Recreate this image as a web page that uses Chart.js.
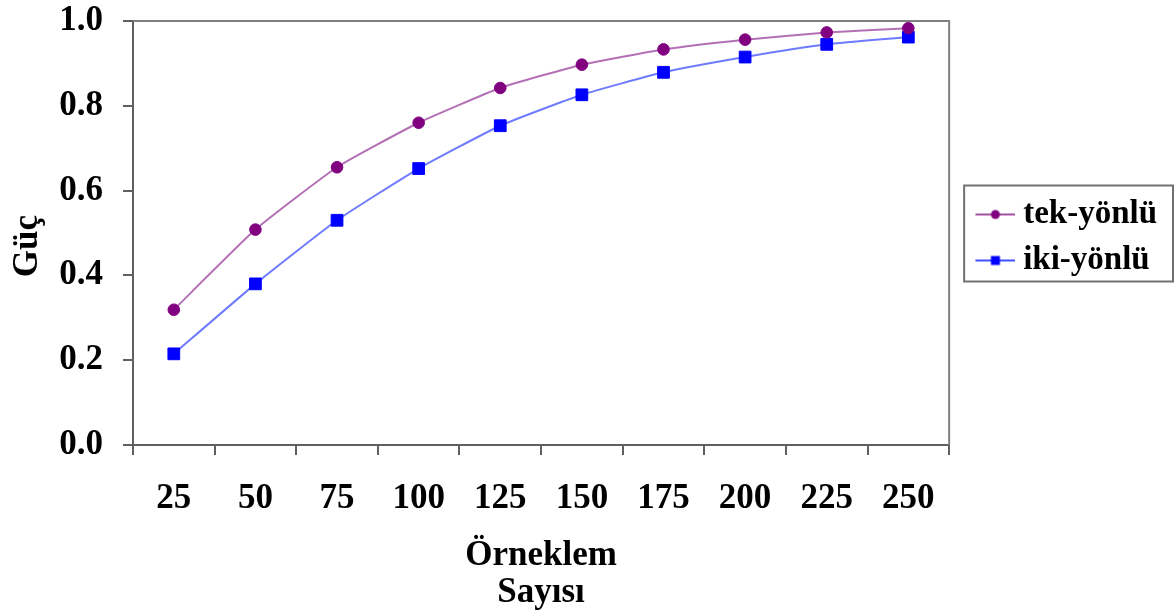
<!DOCTYPE html>
<html>
<head>
<meta charset="utf-8">
<script src="https://cdn.jsdelivr.net/npm/chart.js@4.4.1/dist/chart.umd.min.js"></script>
<style>
  body { margin: 0; background: #fff; }
</style>
</head>
<body>
<canvas id="chart" width="1175" height="615"></canvas>
<script>
// sample sizes on the x axis
const sampleSizes = ['25', '50', '75', '100', '125', '150', '175', '200', '225', '250'];
// power values
const oneTailed = [0.319, 0.508, 0.655, 0.760, 0.842, 0.897, 0.933, 0.956, 0.973, 0.983];
const twoTailed = [0.215, 0.380, 0.530, 0.652, 0.753, 0.826, 0.879, 0.915, 0.945, 0.962];
const yTicks = [0.0, 0.2, 0.4, 0.6, 0.8, 1.0];

const font = 'Liberation Serif';
const legendPad = 13;
const legendItemH = 33;

// legend swatch: a short line with the marker in the middle
function makeSwatch(lineColor, markerColor, shape) {
  const c = document.createElement('canvas');
  c.width = 62;
  c.height = 14;
  const g = c.getContext('2d');
  g.strokeStyle = lineColor;
  g.lineWidth = 2;
  g.beginPath();
  g.moveTo(22, 7);
  g.lineTo(62, 7);
  g.stroke();
  g.fillStyle = markerColor;
  if (shape === 'circle') {
    g.beginPath();
    g.arc(42, 7, 4.5, 0, Math.PI * 2);
    g.fill();
  } else {
    g.fillRect(37.5, 2.5, 9, 9);
  }
  return c;
}

const swatches = [
  makeSwatch('#a050a0', '#800080', 'circle'),
  makeSwatch('#3f4fff', '#0000ff', 'rect')
];

// plot area frame and legend frame
const framePlugin = {
  id: 'frames',
  afterDraw(chart) {
    const ctx = chart.ctx;
    const a = chart.chartArea;
    ctx.save();
    ctx.strokeStyle = '#808080';
    ctx.lineWidth = 2;
    ctx.beginPath();
    ctx.moveTo(a.left, a.top);
    ctx.lineTo(a.right, a.top);
    ctx.lineTo(a.right, a.bottom);
    ctx.stroke();

    // same vertical placement the legend uses for its column
    const lg = chart.legend;
    const n = chart.data.datasets.length;
    const titleH = lg._computeTitleHeight();
    const colH = n * (legendItemH + legendPad);
    const firstTop = (lg.top + titleH + legendPad + lg.bottom - colH) / 2;
    const firstMid = firstTop + legendItemH / 2;
    const lastMid = firstMid + (n - 1) * (legendItemH + legendPad);
    const top = firstMid - 29;
    const bottom = lastMid + 21;
    ctx.strokeStyle = '#707070';
    ctx.strokeRect(lg.left + 15, top, lg.right + 6 - (lg.left + 15), bottom - top);
    ctx.restore();
  }
};

new Chart(document.getElementById('chart').getContext('2d'), {
  type: 'line',
  data: {
    labels: sampleSizes,
    datasets: [{
      label: 'tek-yönlü',
      data: oneTailed,
      borderColor: '#b470b4',
      borderWidth: 2,
      pointStyle: 'circle',
      pointRadius: 5.8,
      pointBackgroundColor: '#800080',
      pointBorderColor: '#800080',
      pointBorderWidth: 1,
      tension: 0.15
    }, {
      label: 'iki-yönlü',
      data: twoTailed,
      borderColor: '#6f7bff',
      borderWidth: 2,
      pointStyle: 'rect',
      pointRadius: 8.3,
      pointBackgroundColor: '#0000ff',
      pointBorderColor: '#0000ff',
      pointBorderWidth: 1,
      tension: 0.15
    }]
  },
  options: {
    responsive: false,
    animation: false,
    layout: {
      padding: { top: 21, right: 8, bottom: 0, left: 0 }
    },
    scales: {
      x: {
        offset: true,
        grid: {
          offset: true,
          drawOnChartArea: false,
          drawTicks: true,
          tickLength: 10,
          color: '#606060',
          lineWidth: 2
        },
        border: { color: '#606060', width: 2 },
        ticks: {
          color: '#000',
          padding: 23,
          maxRotation: 0,
          font: { family: font, size: 35, weight: 'bold' }
        },
        title: {
          display: true,
          text: ['Örneklem', 'Sayısı'],
          color: '#000',
          padding: { top: 0, bottom: 4 },
          font: { family: font, size: 35, weight: 'bold', lineHeight: 1.04 }
        },
        afterFit(scale) {
          scale.height = 170;
        }
      },
      y: {
        min: 0,
        max: 1,
        afterBuildTicks(scale) {
          scale.ticks = yTicks.map(v => ({ value: v }));
        },
        grid: {
          drawOnChartArea: false,
          drawTicks: true,
          tickLength: 10,
          color: '#606060',
          lineWidth: 2
        },
        border: { color: '#606060', width: 2 },
        ticks: {
          color: '#000',
          padding: 20,
          font: { family: font, size: 35, weight: 'bold' },
          callback: v => Number(v).toFixed(1)
        },
        title: {
          display: true,
          text: 'Güç   ',
          color: '#000',
          padding: { top: 7, bottom: 0 },
          font: { family: font, size: 35, weight: 'bold' }
        },
        afterFit(scale) {
          scale.width = 133;
          // the label padding should not push the plot area down
          scale.paddingTop = 0;
          scale.paddingBottom = 0;
        }
      }
    },
    plugins: {
      tooltip: { enabled: false },
      legend: {
        position: 'right',
        fullSize: false,
        title: {
          display: true,
          text: '',
          padding: 4,
          font: { size: 1, lineHeight: 1 }
        },
        labels: {
          usePointStyle: true,
          pointStyleWidth: 44.5,
          padding: legendPad,
          color: '#000',
          font: { family: font, size: legendItemH, weight: 'bold', lineHeight: 1 },
          generateLabels(chart) {
            return chart.data.datasets.map((ds, i) => ({
              text: ds.label,
              pointStyle: swatches[i],
              fillStyle: ds.pointBackgroundColor,
              strokeStyle: ds.borderColor,
              lineWidth: 0,
              fontColor: '#000',
              hidden: false,
              datasetIndex: i
            }));
          }
        }
      }
    }
  },
  plugins: [framePlugin]
});
</script>
</body>
</html>
